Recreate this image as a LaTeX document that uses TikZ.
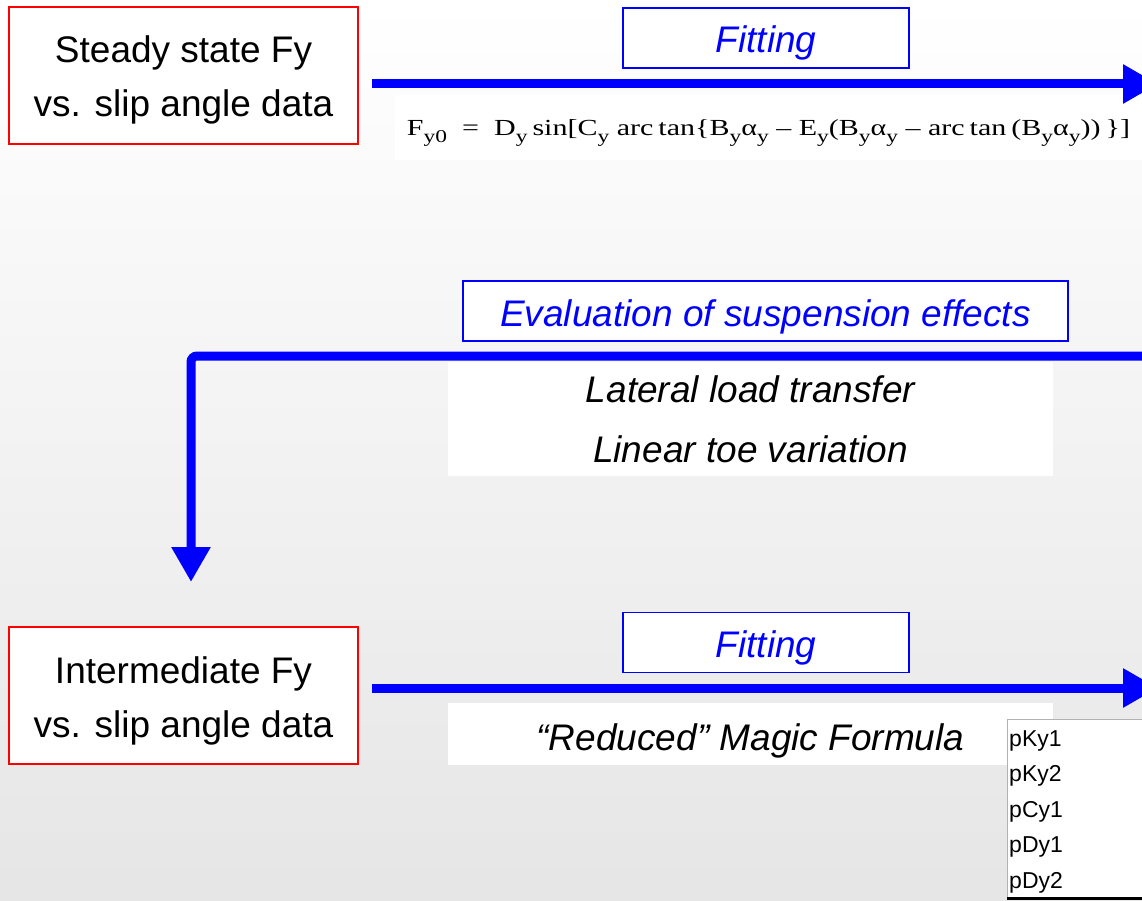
\documentclass[tikz,border=0pt]{standalone}
\usepackage{fontspec}
\setmainfont{Liberation Sans}
\newfontfamily\formulafont{Liberation Serif}
\usetikzlibrary{arrows.meta,positioning}

\newcommand{\ysub}[1]{\raisebox{-6.5pt}{\fontsize{18}{18}\selectfont #1}}

\begin{document}
\begin{tikzpicture}[x=1pt, y=-1pt]
    \tikzset{databox/.style={draw=red, line width=1.5pt, fill=white, minimum width=349pt, minimum height=137pt, align=center, text height=91pt, text depth=8pt, font=\fontsize{37}{54}\selectfont},
             stepname/.style={draw=blue, line width=1.2pt, fill=white, minimum height=60pt, text=blue, text height=38pt, text depth=8pt, font=\fontsize{37}{44}\selectfont\itshape},
             notebox/.style={fill=white, minimum width=605pt, align=center, font=\fontsize{37}{60}\selectfont\itshape},
             flow/.style={draw=blue, line width=9pt, -{Triangle[length=35pt,width=37pt]}}}
    \useasboundingbox (0,0) rectangle (1142,901);
    \shade[top color=white, bottom color=gray!20] (0,0) rectangle (1142,901);

    % first fitting step
    \node[databox] (steady) at (183.5,75.5) {Steady state Fy\\vs. slip angle data};
    \node[stepname, minimum width=286pt] (fit1) at (766,38) {Fitting};
    \node[fill=white, minimum width=747pt, text height=26pt, text depth=9pt, inner ysep=15pt,
          font=\formulafont\fontsize{23}{26}\selectfont] (fy0) at (768.5,127.5)
        {\resizebox{723pt}{\height}{F\ysub{y0}\ \ =\ \ D\ysub{y}\,sin[C\ysub{y}\ arc\,tan\{B\ysub{y}α\ysub{y} – E\ysub{y}(B\ysub{y}α\ysub{y} – arc\,tan\,(B\ysub{y}α\ysub{y}))\,\}]}};
    \coordinate (in1) at (372,84);
    \coordinate (out1) at (1158,84);
    \draw[flow] (in1) -- (out1);

    % suspension effects
    \node[stepname, minimum width=605pt] (susp) at (765.5,311) {Evaluation of suspension effects};
    \node[notebox, minimum height=114pt] (loads) at (750.5,419) {Lateral load transfer\\Linear toe variation};
    \coordinate (in2) at (1160,356);
    \coordinate (out2) at (191,582);
    \draw[flow, rounded corners=6pt] (in2) -| (out2);

    % second fitting step
    \node[databox] (inter) at (183.5,695.5) {Intermediate Fy\\vs. slip angle data};
    \node[stepname, minimum width=286pt] (fit2) at (766,642.5) {Fitting};
    \node[notebox, minimum height=62pt, text height=40pt, text depth=8pt] (reduced) at (750.5,734) {“Reduced” Magic Formula};
    \coordinate (in3) at (372,688);
    \coordinate (out3) at (1158,688);
    \draw[flow] (in3) -- (out3);

    % parameter list
    \node[draw=gray!60, fill=white, anchor=north west, minimum width=160pt, minimum height=179pt,
          align=left, inner xsep=2pt, text width=156pt, text height=17pt, text depth=142pt,
          font=\fontsize{23}{35.5}\selectfont] (params) at (1007,719) {pKy1\\pKy2\\pCy1\\pDy1\\pDy2};
    \draw[line width=3pt] (params.south west) -- (params.south east);
\end{tikzpicture}
\end{document}
